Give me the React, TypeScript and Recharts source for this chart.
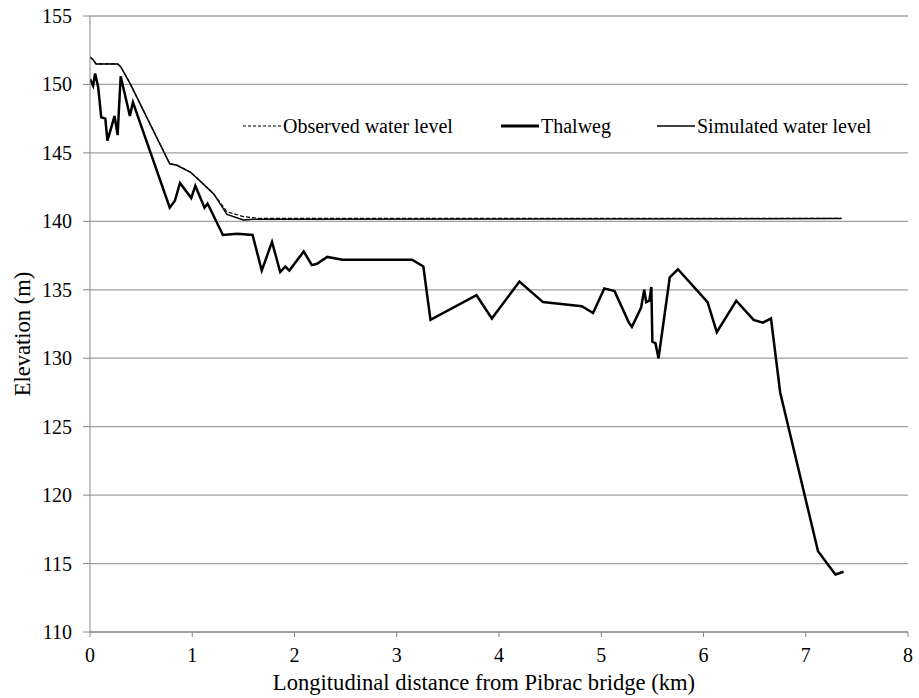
import React from 'react'
import { LineChart, Line, XAxis, YAxis, CartesianGrid } from 'recharts'

// Thalweg profile (km, m)
const thalwegX = [
  0, 0.03, 0.05, 0.08, 0.11, 0.15, 0.17, 0.21, 0.24, 0.27, 0.3, 0.39, 0.42, 0.78, 0.83, 0.88,
  0.99, 1.03, 1.12, 1.15, 1.3, 1.44, 1.59, 1.68, 1.78, 1.86, 1.91, 1.95, 2.09, 2.17, 2.22,
  2.32, 2.47, 3.15, 3.26, 3.33, 3.78, 3.93, 4.2, 4.43, 4.81, 4.92, 5.03, 5.13, 5.27, 5.3,
  5.39, 5.42, 5.44, 5.47, 5.49, 5.5, 5.53, 5.56, 5.67, 5.75, 6.04, 6.13, 6.32, 6.49, 6.58,
  6.66, 6.75, 7.12, 7.29, 7.37,
]
const thalwegY = [
  150.4, 149.9, 150.8, 149.8, 147.6, 147.5, 145.9, 146.9, 147.7, 146.3, 150.6, 147.7, 148.7,
  141.0, 141.5, 142.8, 141.7, 142.6, 141.0, 141.3, 139.0, 139.1, 139.0, 136.4, 138.5, 136.3,
  136.7, 136.4, 137.8, 136.8, 136.9, 137.4, 137.2, 137.2, 136.7, 132.8, 134.6, 132.9, 135.6,
  134.1, 133.8, 133.3, 135.1, 134.9, 132.6, 132.3, 133.7, 135.0, 134.1, 134.2, 135.2, 131.2,
  131.1, 130.0, 135.9, 136.5, 134.1, 131.9, 134.2, 132.8, 132.6, 132.9, 127.5, 115.9, 114.2,
  114.4,
]

// Simulated water level
const simX = [0, 0.03, 0.06, 0.27, 0.3, 0.39, 0.78, 0.85, 0.98, 1.04, 1.14, 1.21, 1.34, 1.5, 1.6, 7.35]
const simY = [152.0, 151.8, 151.5, 151.5, 151.3, 150.1, 144.2, 144.1, 143.6, 143.2, 142.5, 142.0, 140.5, 140.1, 140.15, 140.2]

// Observed water level
const obsX = [0, 0.03, 0.06, 0.27, 0.3, 0.39, 0.78, 0.85, 0.98, 1.04, 1.14, 1.21, 1.34, 1.5, 1.65, 7.35]
const obsY = [152.0, 151.8, 151.5, 151.5, 151.3, 150.1, 144.2, 144.1, 143.6, 143.2, 142.5, 142.0, 140.7, 140.35, 140.22, 140.22]

const xTicks = [0, 1, 2, 3, 4, 5, 6, 7, 8]
const yTicks = [110, 115, 120, 125, 130, 135, 140, 145, 150, 155]

const zip = (xs: number[], ys: number[]) => xs.map((x, i) => ({ x, y: ys[i] }))

const FONT = '"Liberation Serif", "Times New Roman", Tinos, "DejaVu Serif", serif'
const txt = { fontFamily: FONT }

const legendItems = [
  { name: 'Observed water level', left: 243, width: 1.2, dash: '3 2' },
  { name: 'Thalweg', left: 501, width: 2.8, dash: undefined },
  { name: 'Simulated water level', left: 657, width: 1.5, dash: undefined },
]

const renderXTick = (props: any) => (
  <text key={`xt-${props.payload.value}`} x={props.x} y={662} textAnchor="middle" fill="#000" fontSize={20} style={txt}>
    {props.payload.value}
  </text>
)

const renderYTick = (props: any) => (
  <text key={`yt-${props.payload.value}`} x={72} y={props.y + 7} textAnchor="end" fill="#000" fontSize={20} style={txt}>
    {props.payload.value}
  </text>
)

const XLabel = () => (
  <text x={484} y={690} textAnchor="middle" fill="#000" fontSize={22.6} style={txt}>
    Longitudinal distance from Pibrac bridge (km)
  </text>
)

const YLabel = () => (
  <text x={30} y={334} transform="rotate(-90 30 334)" textAnchor="middle" fill="#000" fontSize={22.5} style={txt}>
    Elevation (m)
  </text>
)

export default function App() {
  const thalweg = zip(thalwegX, thalwegY)
  const simulated = zip(simX, simY)
  const observed = zip(obsX, obsY)

  return (
    <div style={{ position: 'absolute', left: 0, top: 0, width: 919, height: 698, fontFamily: FONT, background: '#fff' }}>
      <LineChart width={919} height={698} margin={{ top: 16, right: 11, left: 30, bottom: 33 }}>
        <CartesianGrid vertical={false} stroke="#a0a0a0" strokeWidth={1.3} />
        <XAxis
          dataKey="x"
          type="number"
          domain={[0, 8]}
          ticks={xTicks}
          allowDataOverflow
          height={33}
          tickSize={5}
          tickMargin={4}
          stroke="#888"
          tick={renderXTick}
          label={<XLabel />}
        />
        <YAxis
          dataKey="y"
          type="number"
          domain={[110, 155]}
          ticks={yTicks}
          allowDataOverflow
          width={60}
          tickSize={7}
          tickMargin={11}
          stroke="#888"
          tick={renderYTick}
          label={<YLabel />}
        />
        <Line data={observed} dataKey="y" name="Observed water level" stroke="#000" strokeWidth={1.2} strokeDasharray="4 2" dot={false} isAnimationActive={false} />
        <Line data={thalweg} dataKey="y" name="Thalweg" stroke="#000" strokeWidth={2.5} dot={false} isAnimationActive={false} />
        <Line data={simulated} dataKey="y" name="Simulated water level" stroke="#000" strokeWidth={1.5} dot={false} isAnimationActive={false} />
      </LineChart>
      {/* legend sits inside the plot area */}
      {legendItems.map((it) => (
        <div key={it.name} style={{ position: 'absolute', left: it.left, top: 112, height: 28, display: 'flex', alignItems: 'center', whiteSpace: 'nowrap', fontSize: 20, lineHeight: '28px' }}>
          <svg width={38} height={28}>
            <line x1={0} y1={14} x2={38} y2={14} stroke="#000" strokeWidth={it.width} strokeDasharray={it.dash} />
          </svg>
          <span style={{ marginLeft: 2, color: '#000' }}>{it.name}</span>
        </div>
      ))}
    </div>
  )
}
